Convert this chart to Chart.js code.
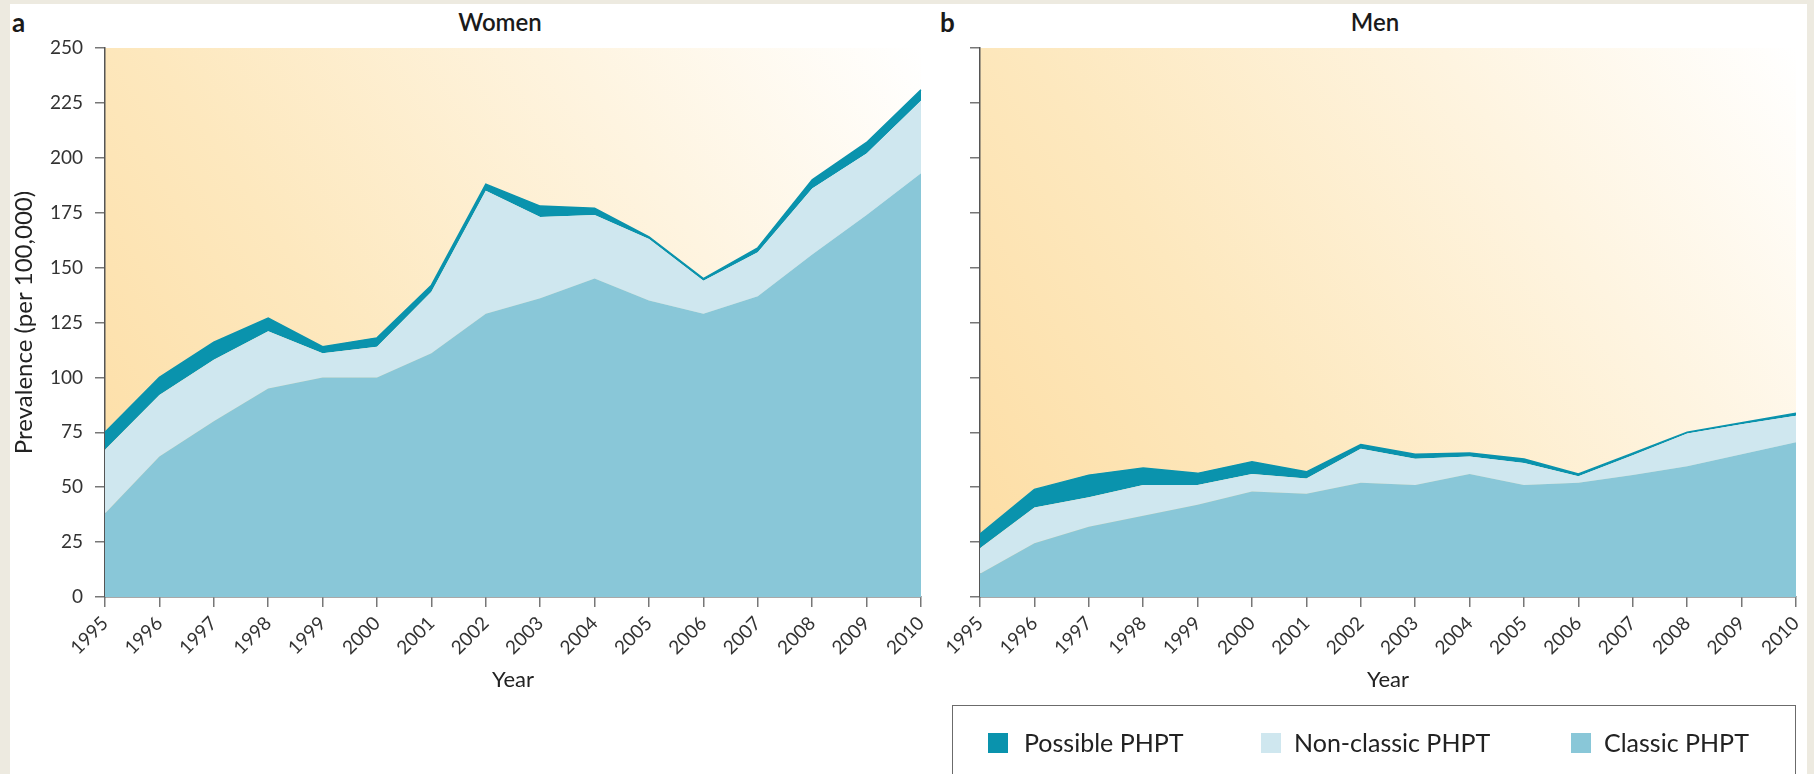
<!DOCTYPE html>
<html>
<head>
<meta charset="utf-8">
<script src="https://cdn.jsdelivr.net/npm/chart.js@4.4.1/dist/chart.umd.min.js"></script>
<style>
html,body{margin:0;padding:0;}
body{width:1814px;height:774px;background:#edeae0;position:relative;overflow:hidden;font-family:Lato,"Open Sans",sans-serif;color:#222;}
#panel{position:absolute;left:10px;top:4px;width:1797px;height:770px;background:#fff;}
canvas{position:absolute;}
.lab{position:absolute;font-weight:700;font-size:26px;line-height:26px;color:#1a1a1a;}
.ttl{position:absolute;font-size:24px;font-weight:600;line-height:28px;transform:translateX(-50%);color:#1a1a1a;white-space:nowrap;}
#legend{position:absolute;left:952px;top:705px;width:844px;height:90px;border:1px solid #6b6b6b;box-sizing:border-box;}
.item{position:absolute;top:21px;font-size:25px;line-height:30px;color:#222;white-space:nowrap;}
.sw{position:absolute;top:27px;width:20px;height:20px;}
</style>
</head>
<body>
<div id="panel"></div>
<div class="lab" style="left:12px;top:9px;">a</div>
<div class="lab" style="left:940px;top:9px;">b</div>
<div class="ttl" id="t1" style="left:500px;top:8px;"></div>
<div class="ttl" id="t2" style="left:1375px;top:8px;"></div>
<canvas id="c1" width="920" height="770" style="left:10px;top:4px;"></canvas>
<canvas id="c2" width="876" height="770" style="left:930px;top:4px;"></canvas>
<div id="legend"></div>
<script>
// ---- data ----
const years = ['1995','1996','1997','1998','1999','2000','2001','2002','2003','2004','2005','2006','2007','2008','2009','2010'];
const seriesNames = ['Possible PHPT','Non-classic PHPT','Classic PHPT'];
const panelTitles = ['Women','Men'];
const yTicks = [0,25,50,75,100,125,150,175,200,225,250];

// Women (per 100,000), stacked components
const womenClassic    = [38, 64, 80, 95, 100, 100, 111, 129, 136, 145, 135, 129, 137, 156, 174, 193];
const womenNonClassic = [29, 28, 28, 26, 11, 14, 28, 56, 37, 29, 28, 15, 20, 30, 28, 33];
const womenPossible   = [8, 8, 8, 6, 3, 4, 3, 3, 5, 3, 1, 1, 2, 4, 5, 5];

// Men (per 100,000), stacked components
const menClassic    = [10.6, 24.5, 32, 37, 42, 48, 47, 52, 51, 56, 51, 52, 55.5, 59.5, 65, 70.5];
const menNonClassic = [11.6, 16.2, 13.4, 14, 9, 8, 7, 15.5, 12, 8, 10, 3, 9, 15, 13.7, 12];
const menPossible   = [6.5, 8.3, 10.1, 7.7, 5.3, 5.6, 3, 1.9, 2, 1.6, 1.8, 1, 1, 0.5, 0.6, 1.2];

// ---- styles ----
const colPossible = '#0a93ad';
const colNonClassic = '#cfe7ef';
const colClassic = '#89c7d8';
const FONT = 'Lato, "Open Sans", sans-serif';

document.getElementById('t1').textContent = panelTitles[0];
document.getElementById('t2').textContent = panelTitles[1];

// legend
const legendColors = [colPossible, colNonClassic, colClassic];
const swX = [35, 308, 618], txX = [71, 341, 651];
const lg = document.getElementById('legend');
seriesNames.forEach((n, i) => {
  const s = document.createElement('div'); s.className = 'sw';
  s.style.left = swX[i] + 'px'; s.style.background = legendColors[i]; lg.appendChild(s);
  const t = document.createElement('div'); t.className = 'item';
  t.style.left = txX[i] + 'px'; t.textContent = n; lg.appendChild(t);
});

const bgPlugin = {
  id: 'bgGrad',
  beforeDraw(chart) {
    const {ctx, chartArea: a} = chart;
    const g = ctx.createLinearGradient(a.left, a.bottom, a.right, a.top);
    g.addColorStop(0, 'rgb(253,221,163)');
    g.addColorStop(0.35, 'rgb(253,232,190)');
    g.addColorStop(0.7, 'rgb(254,244,224)');
    g.addColorStop(1, 'rgb(255,255,255)');
    ctx.save();
    ctx.fillStyle = g;
    ctx.fillRect(a.left, a.top, a.right - a.left, a.bottom - a.top);
    ctx.restore();
  }
};

function makeChart(id, classic, nonClassic, possible, showY, yWidth, padRight) {
  return new Chart(document.getElementById(id), {
    type: 'line',
    data: {
      labels: years,
      datasets: [
        {label: seriesNames[2], data: classic, backgroundColor: colClassic, borderWidth: 0, fill: 'origin', pointRadius: 0, tension: 0},
        {label: seriesNames[1], data: nonClassic, backgroundColor: colNonClassic, borderWidth: 0, fill: '-1', pointRadius: 0, tension: 0},
        {label: seriesNames[0], data: possible, backgroundColor: colPossible, borderColor: colPossible, borderWidth: 1.5, fill: '-1', pointRadius: 0, tension: 0}
      ]
    },
    options: {
      responsive: false,
      animation: false,
      devicePixelRatio: 1,
      layout: {padding: {top: 44, bottom: 60, left: 0, right: padRight}},
      plugins: {legend: {display: false}, tooltip: {enabled: false}, title: {display: false}},
      scales: {
        x: {
          type: 'category',
          offset: false,
          afterFit: s => { s.height = 117; s.paddingRight = 0; s.paddingLeft = 0; },
          border: {color: '#555', width: 1.5},
          grid: {drawOnChartArea: false, drawTicks: true, tickLength: 10, color: '#777', lineWidth: 1.5},
          ticks: {color: '#333', font: {family: FONT, size: 19}, minRotation: 45, maxRotation: 45, autoSkip: false, padding: 5},
          title: {display: true, text: 'Year', color: '#222', font: {family: FONT, size: 22}, padding: {top: 0, bottom: 21}}
        },
        y: {
          stacked: true,
          min: 0, max: 250,
          afterFit: s => { s.width = yWidth; },
          afterBuildTicks: s => { s.ticks = yTicks.map(v => ({value: v})); },
          border: {color: '#555', width: 1.5},
          grid: {drawOnChartArea: false, drawTicks: true, tickLength: 10, color: '#777', lineWidth: 1.5},
          ticks: {display: true, color: '#333', font: {family: FONT, size: 19}, padding: 12,
                  callback: v => showY ? String(v) : ''},
          title: {display: showY, text: 'Prevalence (per 100,000)', color: '#222', font: {family: FONT, size: 24}, padding: {top: 0, bottom: 0}}
        }
      }
    },
    plugins: [bgPlugin]
  });
}

makeChart('c1', womenClassic, womenNonClassic, womenPossible, true, 95, 9);
makeChart('c2', menClassic, menNonClassic, menPossible, false, 50, 10);
</script>
</body>
</html>
